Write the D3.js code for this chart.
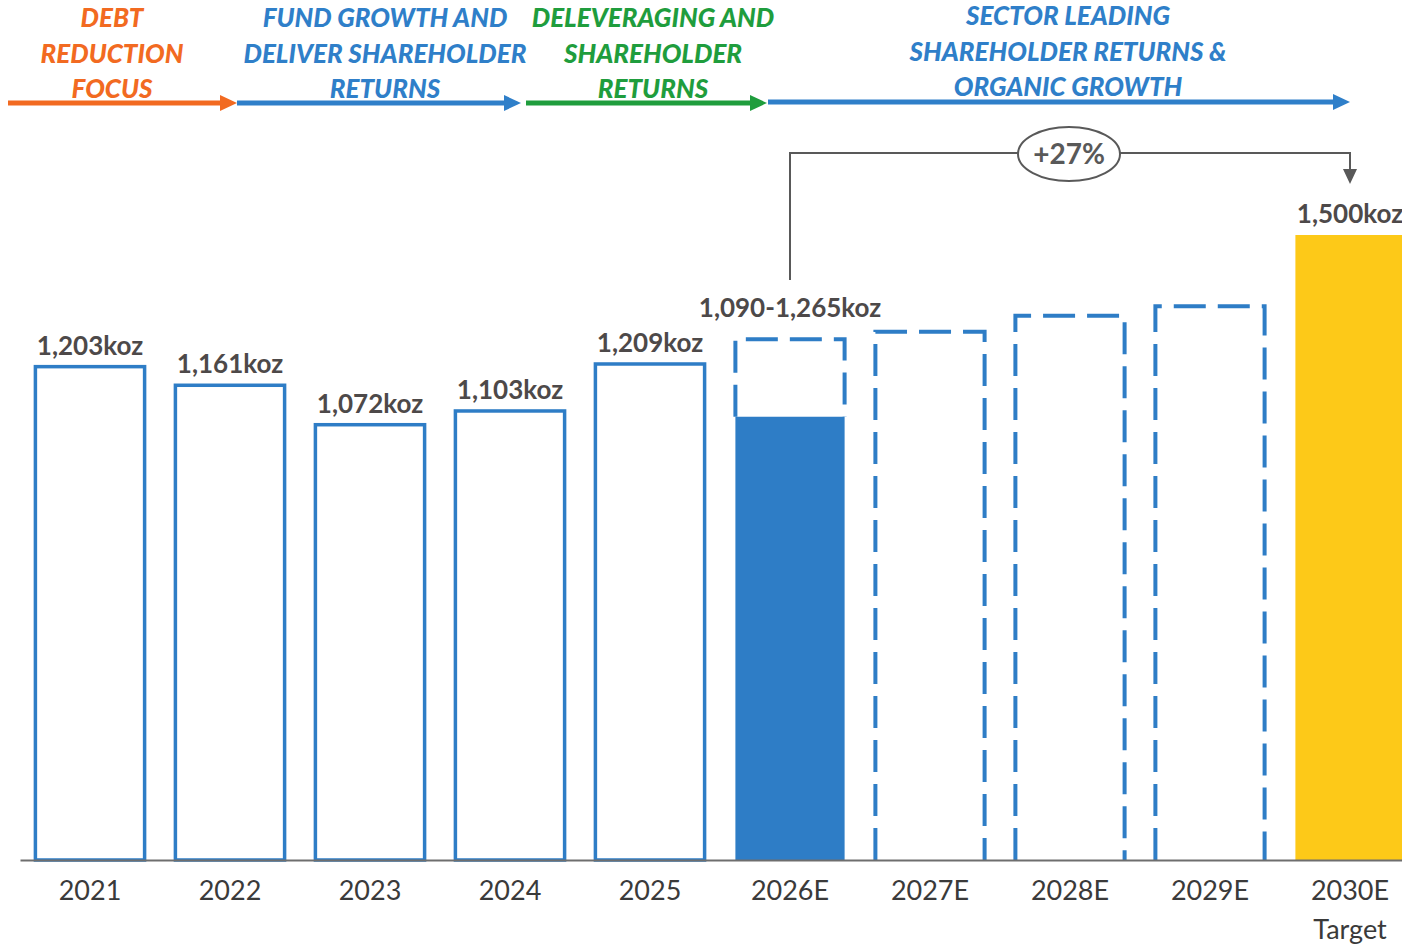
<!DOCTYPE html>
<html lang="en">
  <head>
    <meta charset="UTF-8"/>
    <title>Production outlook</title>
    <script src="https://cdn.jsdelivr.net/npm/d3@7"></script>
    <style>
      body { margin: 0; background: #fff; }
      svg { display: block; font-family: Lato, 'Open Sans', sans-serif; }
    </style>
  </head>
  <body>
    <div id="chart"></div>
    <script>
    var width = 1402;
    var height = 945;

    // categories + values (koz)
    var years = ['2021', '2022', '2023', '2024', '2025', '2026E', '2027E', '2028E', '2029E', '2030E'];
    var tickLabels = [['2021'], ['2022'], ['2023'], ['2024'], ['2025'], ['2026E'], ['2027E'], ['2028E'], ['2029E'], ['2030E', 'Target']];
    var actuals = [1203, 1161, 1072, 1103, 1209];
    var actualLabels = ['1,203koz', '1,161koz', '1,072koz', '1,103koz', '1,209koz'];
    var guidanceLow = 1090;   // 2026E solid part
    var guidanceHigh = 1265;  // 2026E dashed top
    var guidanceLabel = '1,090-1,265koz';
    var outlookYears = ['2027E', '2028E', '2029E'];
    var outlookValues = [1282, 1318, 1339];
    var targetValue = 1500;
    var targetLabel = '1,500koz';
    var growthLabel = '+27%';

    // strategy phases shown across the top
    var phaseLines = [
      ['DEBT', 'REDUCTION', 'FOCUS'],
      ['FUND GROWTH AND', 'DELIVER SHAREHOLDER', 'RETURNS'],
      ['DELEVERAGING AND', 'SHAREHOLDER', 'RETURNS'],
      ['SECTOR LEADING', 'SHAREHOLDER RETURNS &', 'ORGANIC GROWTH']
    ];
    var phaseColors = ['#f26a21', '#2f7fc9', '#1f9d3d', '#2f7fc9'];

    var blue = '#2e7dc6';
    var yellow = '#fdc918';
    var labelGrey = '#4d4949';

    var svg = d3.select('#chart').append('svg')
      .attr('width', width)
      .attr('height', height);

    var x = d3.scaleBand()
      .domain(years)
      .range([20, 1420])
      .paddingInner(0.22)
      .paddingOuter(0.11);

    // axis does not start at zero
    var y = d3.scaleLinear()
      .domain([90, 1500])
      .range([860, 235]);

    var baseY = y(90);
    var cx = function(d) { return x(d) + x.bandwidth() / 2; };

    // ---- phase header ----
    var arrowSpans = [[8, 237], [237, 521], [526, 767], [768, 1350]];
    var textCenters = [112, 385, 653, 1068];
    var textTops = [18, 18, 18, 16];

    phaseLines.forEach(function(lines, i) {
      var g = svg.append('g');
      g.selectAll('text')
        .data(lines)
        .join('text')
        .attr('x', textCenters[i])
        .attr('y', function(d, j) { return textTops[i] + j * 35.5; })
        .attr('dy', '0.35em')
        .attr('text-anchor', 'middle')
        .attr('font-size', 26)
        .attr('font-weight', 900)
        .attr('font-style', 'italic')
        .attr('fill', phaseColors[i])
        .text(function(d) { return d; });

      var s = arrowSpans[i];
      var ay = i === 3 ? 102 : 103;
      g.append('line')
        .attr('x1', s[0]).attr('x2', s[1] - 14)
        .attr('y1', ay).attr('y2', ay)
        .attr('stroke', phaseColors[i])
        .attr('stroke-width', 5);
      g.append('path')
        .attr('d', 'M' + (s[1] - 17) + ',' + (ay - 8) + 'L' + s[1] + ',' + ay + 'L' + (s[1] - 17) + ',' + (ay + 8) + 'Z')
        .attr('fill', phaseColors[i]);
    });

    // ---- actual bars (outlined) ----
    svg.selectAll('.actual')
      .data(actuals)
      .join('rect')
      .attr('class', 'actual')
      .attr('x', function(d, i) { return x(years[i]); })
      .attr('y', function(d) { return y(d); })
      .attr('width', x.bandwidth())
      .attr('height', function(d) { return baseY - y(d); })
      .attr('fill', '#fff')
      .attr('stroke', blue)
      .attr('stroke-width', 3.5);

    svg.selectAll('.actualLabel')
      .data(actuals)
      .join('text')
      .attr('class', 'actualLabel')
      .attr('x', function(d, i) { return cx(years[i]); })
      .attr('y', function(d) { return y(d) - 12; })
      .attr('text-anchor', 'middle')
      .attr('font-size', 26)
      .attr('font-weight', 'bold')
      .attr('fill', labelGrey)
      .text(function(d, i) { return actualLabels[i]; });

    // ---- 2026E guidance ----
    svg.append('rect')
      .attr('x', x('2026E'))
      .attr('y', y(guidanceLow))
      .attr('width', x.bandwidth())
      .attr('height', baseY - y(guidanceLow))
      .attr('fill', blue);

    // dashed range box + outlook years
    var dashed = [{ k: '2026E', v: guidanceHigh, lo: guidanceLow }].concat(
      outlookYears.map(function(k, i) { return { k: k, v: outlookValues[i], lo: 90 }; }));

    svg.selectAll('.dash')
      .data(dashed)
      .join('path')
      .attr('class', 'dash')
      .attr('d', function(d) {
        var x0 = x(d.k), x1 = x0 + x.bandwidth();
        return 'M' + x0 + ',' + y(d.lo) + 'V' + y(d.v) + 'H' + x1 + 'V' + y(d.lo);
      })
      .attr('fill', 'none')
      .attr('stroke', blue)
      .attr('stroke-width', 4)
      .attr('stroke-dasharray', '32,12');

    svg.append('text')
      .attr('x', cx('2026E'))
      .attr('y', y(guidanceHigh) - 22)
      .attr('text-anchor', 'middle')
      .attr('font-size', 26)
      .attr('font-weight', 'bold')
      .attr('fill', labelGrey)
      .text(guidanceLabel);

    // ---- 2030E target ----
    svg.append('rect')
      .attr('x', x('2030E'))
      .attr('y', y(targetValue))
      .attr('width', x.bandwidth())
      .attr('height', baseY - y(targetValue))
      .attr('fill', yellow);

    svg.append('text')
      .attr('x', cx('2030E'))
      .attr('y', y(targetValue) - 12)
      .attr('text-anchor', 'middle')
      .attr('font-size', 26)
      .attr('font-weight', 'bold')
      .attr('fill', labelGrey)
      .text(targetLabel);

    // ---- growth bracket ----
    var bx0 = cx('2026E'), bx1 = cx('2030E'), by = 153;
    svg.append('path')
      .attr('d', 'M' + bx0 + ',' + 280 + 'V' + by + 'H' + bx1 + 'V' + 170)
      .attr('fill', 'none')
      .attr('stroke', '#595959')
      .attr('stroke-width', 2);
    svg.append('path')
      .attr('d', 'M' + (bx1 - 7) + ',169L' + bx1 + ',184L' + (bx1 + 7) + ',169Z')
      .attr('fill', '#595959');
    svg.append('ellipse')
      .attr('cx', 1069).attr('cy', by + 1)
      .attr('rx', 51).attr('ry', 27)
      .attr('fill', '#fff')
      .attr('stroke', '#595959')
      .attr('stroke-width', 2);
    svg.append('text')
      .attr('x', 1069).attr('y', by + 1)
      .attr('dy', '0.35em')
      .attr('text-anchor', 'middle')
      .attr('font-size', 28)
      .attr('font-weight', 'bold')
      .attr('fill', '#595959')
      .text(growthLabel);

    // ---- x axis ----
    var xAxis = svg.append('g')
      .attr('transform', 'translate(0,' + baseY + ')')
      .call(d3.axisBottom(x).tickSize(0).tickFormat(''));
    xAxis.select('.domain')
      .attr('stroke', '#6e6e6e')
      .attr('stroke-width', 2);

    xAxis.selectAll('.tick').each(function(d, i) {
      d3.select(this).select('text').remove();
      d3.select(this).append('text')
        .attr('text-anchor', 'middle')
        .attr('font-family', 'Lato, sans-serif')
        .attr('font-size', 27)
        .attr('fill', '#3a3a3a')
        .selectAll('tspan')
        .data(tickLabels[i])
        .join('tspan')
        .attr('x', 0)
        .attr('y', function(t, j) { return 40 + j * 39; })
        .text(function(t) { return t; });
    });
    </script>
  </body>
</html>
